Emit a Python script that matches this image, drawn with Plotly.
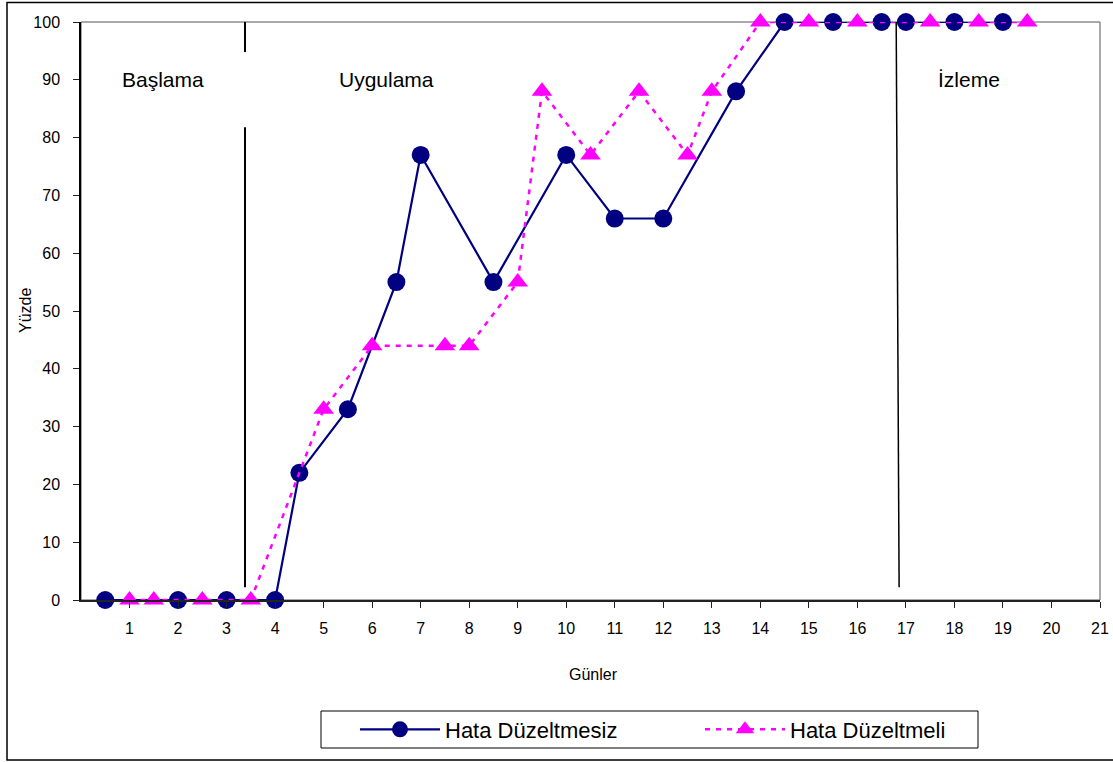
import plotly.graph_objects as go

# Data
x_duzeltmesiz = [0.5, 2, 3, 4, 4.5, 5.5, 6.5, 7, 8.5, 10, 11, 12, 13.5, 14.5, 15.5, 16.5, 17, 18, 19]
y_duzeltmesiz = [0, 0, 0, 0, 22, 33, 55, 77, 55, 77, 66, 66, 88, 100, 100, 100, 100, 100, 100]

x_duzeltmeli = [1, 1.5, 2.5, 3.5, 5, 6, 7.5, 8, 9, 9.5, 10.5, 11.5, 12.5, 13, 14, 15, 16, 17.5, 18.5, 19.5]
y_duzeltmeli = [0, 0, 0, 0, 33, 44, 44, 44, 55, 88, 77, 88, 77, 88, 100, 100, 100, 100, 100, 100]

x_ticks = list(range(1, 22))
x_tick_labels = [str(v) for v in x_ticks]
y_ticks = list(range(0, 101, 10))

phase_names = ["Başlama", "Uygulama", "İzleme"]
phase_label_x = [1.70, 6.29, 18.30]
phase_label_y = [90, 90, 90]
phase_line_x = [3.38, 16.83]

series_names = ["Hata Düzeltmesiz", "Hata Düzeltmeli"]

FONT = "Liberation Sans, Arial, sans-serif"

fig = go.Figure()
fig.add_trace(go.Scatter(
    x=x_duzeltmesiz, y=y_duzeltmesiz, name=series_names[0], mode="lines+markers",
    line=dict(color="#000080", width=2.2),
    marker=dict(symbol="circle", size=18, color="#000080"),
    cliponaxis=False,
))
fig.add_trace(go.Scatter(
    x=x_duzeltmeli, y=y_duzeltmeli, name=series_names[1], mode="lines+markers",
    line=dict(color="#FF00FF", width=2.5, dash="5px,6px"),
    marker=dict(symbol="triangle-up", size=18, color="#FF00FF"),
    cliponaxis=False,
))

# reference plot area (page pixels): x 81..1100, y 22..600
PW, PH = 1019, 578


def px(v):
    return (v - 81) / PW


def py(v):
    return (600 - v) / PH


shapes = []
# phase change lines
shapes.append(dict(type="line", xref="x", yref="y", x0=phase_line_x[0], x1=phase_line_x[0],
                   y0=100, y1=94.8, line=dict(color="black", width=2)))
shapes.append(dict(type="line", xref="x", yref="y", x0=phase_line_x[0], x1=phase_line_x[0],
                   y0=81.8, y1=2.2, line=dict(color="black", width=2)))
shapes.append(dict(type="line", xref="x", yref="y", x0=phase_line_x[1] - 0.03, x1=phase_line_x[1] + 0.03,
                   y0=100, y1=2.2, line=dict(color="black", width=1.5)))
# plot frame (gray top/right)
shapes.append(dict(type="rect", xref="paper", yref="paper", x0=0, x1=1, y0=0, y1=1,
                   line=dict(color="#555555", width=1), layer="below"))
# outer chart border
shapes.append(dict(type="rect", xref="paper", yref="paper", x0=px(7), x1=px(1140), y0=py(760), y1=py(2.5),
                   line=dict(color="black", width=1.5), layer="below"))
# legend box
shapes.append(dict(type="rect", xref="paper", yref="paper",
                   x0=px(321), x1=px(978), y0=py(748), y1=py(711),
                   line=dict(color="black", width=1), fillcolor="white", layer="below"))

annotations = []
for name, ax, ay in zip(phase_names, phase_label_x, phase_label_y):
    annotations.append(dict(x=ax, y=ay, xref="x", yref="y", text=name, showarrow=False,
                            font=dict(family=FONT, size=21, color="black"),
                            xanchor="center", yanchor="middle"))
annotations.append(dict(x=px(593), y=py(675), xref="paper", yref="paper", text="Günler", showarrow=False,
                        font=dict(family=FONT, size=16, color="black"), xanchor="center", yanchor="middle"))
annotations.append(dict(x=px(25), y=0.5, xref="paper", yref="paper", text="Yüzde", showarrow=False,
                        textangle=-90, font=dict(family=FONT, size=16, color="black"),
                        xanchor="center", yanchor="middle"))

W, H = 1113, 762
fig.update_layout(
    width=W, height=H,
    margin=dict(l=81, r=W - 1100, t=22, b=H - 600, autoexpand=False),
    paper_bgcolor="white", plot_bgcolor="white",
    font=dict(family=FONT, color="black"),
    shapes=shapes, annotations=annotations,
    showlegend=True,
    legend=dict(orientation="h", x=px(355), y=py(729.5), xanchor="left", yanchor="middle",
                borderwidth=0, bgcolor="rgba(0,0,0,0)",
                font=dict(family=FONT, size=22, color="black"),
                entrywidth=250, itemwidth=80),
    xaxis=dict(range=[0, 21], tickvals=x_ticks, ticktext=x_tick_labels, showgrid=False, zeroline=False,
               showline=True, linecolor="#222222", linewidth=1.5, ticks="outside", ticklen=6,
               tickcolor="#222222", tickfont=dict(family=FONT, size=16, color="black"),
               ticklabelstandoff=7),
    yaxis=dict(range=[0, 100], tickvals=y_ticks, showgrid=False, zeroline=False,
               showline=True, linecolor="black", linewidth=1.5, ticks="outside", ticklen=6,
               tickcolor="#222222", tickfont=dict(family=FONT, size=16, color="black"),
               ticklabelstandoff=10),
)

# remove the default 8px page margin so the figure fills the window exactly
fig.write_html("out.html", config={"displayModeBar": False},
               post_script="document.body.style.margin='0px';document.body.style.overflow='hidden';")
